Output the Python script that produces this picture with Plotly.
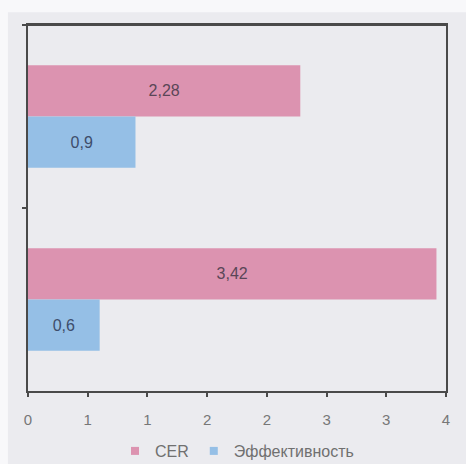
import plotly.graph_objects as go

# Two groups of horizontal bars, CER above efficiency in each group
groups = ["Группа 1", "Группа 2"]
cer_values = [2.28, 3.42]
eff_values = [0.9, 0.6]
series_names = ["CER", "Эффективность"]
series_colors = ["#dc93b0", "#95bfe6"]

# Axis ticks every 0.5, printed with zero decimals
tick_values = [0, 0.5, 1, 1.5, 2, 2.5, 3, 3.5]
tick_labels = ["0", "1", "1", "2", "2", "3", "3", "4"]


def comma(v):
    return f"{v}".replace(".", ",")


fig = go.Figure()
for name, vals, color, txt_color in [
    (series_names[0], cer_values, series_colors[0], "#5a4657"),
    (series_names[1], eff_values, series_colors[1], "#3e4d6b"),
]:
    fig.add_trace(go.Bar(
        y=groups, x=vals, orientation="h", name=name, showlegend=False,
        marker=dict(color=color, line=dict(width=0)),
        text=[comma(v) for v in vals], textposition="inside",
        insidetextanchor="middle",
        textfont=dict(color=txt_color, size=16, family="Liberation Sans"),
    ))
    # small square legend key for the series
    fig.add_trace(go.Scatter(
        x=[None], y=[None], mode="markers", name=name,
        marker=dict(symbol="square", size=8, color=color),
    ))

fig.update_layout(
    width=466, height=464,
    margin=dict(l=28, r=20, t=25, b=73, autoexpand=False),
    paper_bgcolor="#ebebef", plot_bgcolor="#ebebef",
    barmode="group", bargap=0.44, bargroupgap=0,
    font=dict(family="Liberation Sans", color="#707070", size=12),
    showlegend=True,
    legend=dict(
        orientation="h", x=0.5, xanchor="center",
        yref="container", y=0.028, yanchor="middle",
        font=dict(size=16, color="#707070"), traceorder="normal",
        bgcolor="rgba(0,0,0,0)", itemwidth=30,
    ),
    xaxis=dict(
        range=[0, 3.5], tickvals=tick_values, ticktext=tick_labels,
        showgrid=False, zeroline=False,
        showline=True, linecolor="#4a4a4a", linewidth=2, mirror=True,
        ticks="outside", ticklen=4, tickwidth=2, tickcolor="#4a4a4a",
        ticklabelstandoff=10, tickfont=dict(size=15, color="#777777"),
    ),
    yaxis=dict(
        autorange="reversed", showticklabels=False, showgrid=False,
        zeroline=False, showline=True, linecolor="#4a4a4a", linewidth=2,
        mirror=True, ticks="outside", ticklen=4, tickwidth=2,
        tickcolor="#4a4a4a", tickson="boundaries",
    ),
    shapes=[
        # pale strips along the top and left page edges
        dict(type="rect", xref="paper", yref="paper", layer="below",
             x0=-0.07, x1=1.05, y0=1.035, y1=1.07,
             fillcolor="#f8f8fa", line=dict(width=0)),
        dict(type="rect", xref="paper", yref="paper", layer="below",
             x0=-0.07, x1=-0.048, y0=-0.2, y1=1.07,
             fillcolor="#f8f8fa", line=dict(width=0)),
        # top edge of the plot frame
        dict(type="line", xref="paper", yref="paper", layer="above",
             x0=0, x1=1, y0=1, y1=1,
             line=dict(color="#4a4a4a", width=2)),
    ],
)

fig.write_html("out.html")
